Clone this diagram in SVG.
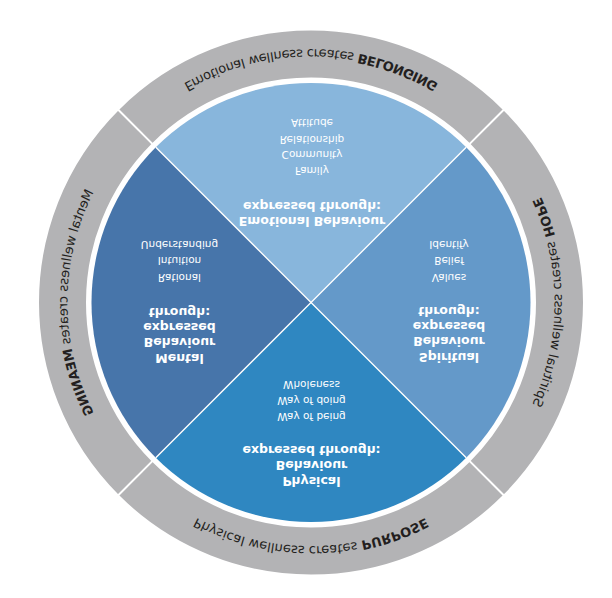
<svg xmlns="http://www.w3.org/2000/svg" xmlns:xlink="http://www.w3.org/1999/xlink" width="612" height="598" viewBox="0 0 612 598">
<style>
.ringtxt{font-family:"DejaVu Sans","Liberation Sans",sans-serif;font-size:13px;fill:#231f20}
.ringtxt .cap{font-weight:bold}
.title{font-family:"DejaVu Sans","Liberation Sans",sans-serif;font-size:12.5px;font-weight:bold;fill:#ffffff;text-anchor:middle}
.item{font-family:"DejaVu Sans","Liberation Sans",sans-serif;font-size:10.5px;fill:#ffffff;text-anchor:middle}
.pdiv{stroke:#ffffff;stroke-width:1.3;fill:none}
.rdiv{stroke:#ffffff;stroke-width:2;fill:none}
</style>
<defs>
<path id="pTop" d="M67.25,302.5 A243.75,243.75 0 0 1 554.75,302.5"/>
<path id="pRight" d="M311,58.75 A243.75,243.75 0 0 1 311,546.25"/>
<path id="pLeft" d="M311,546.25 A243.75,243.75 0 0 1 311,58.75"/>
<path id="pBottom" d="M57.75,302.5 A253.25,253.25 0 0 0 564.25,302.5"/>
</defs>
<rect width="612" height="598" fill="#ffffff"/>
<g transform="matrix(1 0 0 -1 0 605)">
  <g id="ring">
    <circle cx="311" cy="302.5" r="248.5" fill="none" stroke="#b3b3b5" stroke-width="47"/>
  </g>
  <g id="physical">
    <path d="M311,302.5 L155.79,147.29 A219.5,219.5 0 0 1 466.21,147.29 Z" fill="#2f87c1"/>
    <text class="title" x="311.5" y="128.3">Physical</text>
    <text class="title" x="311.5" y="143.8">Behaviour</text>
    <text class="title" x="311.5" y="159.3">expressed through:</text>
    <text class="item" x="311.5" y="191.7">Way of being</text>
    <text class="item" x="311.5" y="207.9">Way of doing</text>
    <text class="item" x="311.5" y="224.2">Wholeness</text>
    <text class="ringtxt"><textPath xlink:href="#pTop" href="#pTop" startOffset="50%" text-anchor="middle">Physical wellness creates <tspan class="cap">PURPOSE</tspan></textPath></text>
  </g>
  <g id="spiritual">
    <path d="M311,302.5 L466.21,147.29 A219.5,219.5 0 0 1 466.21,457.71 Z" fill="#6499c9"/>
    <text class="title" x="449" y="252.3">Spiritual</text>
    <text class="title" x="449" y="267.8">Behaviour</text>
    <text class="title" x="449" y="283.1">expressed</text>
    <text class="title" x="449" y="298.4">through:</text>
    <text class="item" x="449" y="331.5">Values</text>
    <text class="item" x="449" y="347.8">Belief</text>
    <text class="item" x="449" y="364.2">Identify</text>
    <text class="ringtxt"><textPath xlink:href="#pRight" href="#pRight" startOffset="50%" text-anchor="middle">Spiritual wellness creates <tspan class="cap">HOPE</tspan></textPath></text>
  </g>
  <g id="emotional">
    <path d="M311,302.5 L466.21,457.71 A219.5,219.5 0 0 1 155.79,457.71 Z" fill="#88b6dc"/>
    <text class="title" x="312" y="387.7">Emotional Behaviour</text>
    <text class="title" x="312" y="402.6">expressed through:</text>
    <text class="item" x="312" y="438.3">Family</text>
    <text class="item" x="312" y="453.6">Community</text>
    <text class="item" x="312" y="469.2">Relationship</text>
    <text class="item" x="312" y="485.7">Attitude</text>
    <text class="ringtxt"><textPath xlink:href="#pBottom" href="#pBottom" startOffset="50%" text-anchor="middle">Emotional wellness creates <tspan class="cap">BELONGING</tspan></textPath></text>
  </g>
  <g id="mental">
    <path d="M311,302.5 L155.79,457.71 A219.5,219.5 0 0 1 155.79,147.29 Z" fill="#4775aa"/>
    <text class="title" x="179.5" y="251.2">Mental</text>
    <text class="title" x="179.5" y="266.6">Behaviour</text>
    <text class="title" x="179.5" y="282">expressed</text>
    <text class="title" x="179.5" y="297.5">through:</text>
    <text class="item" x="179.5" y="331.2">Rational</text>
    <text class="item" x="179.5" y="347.6">Intuition</text>
    <text class="item" x="179.5" y="364.2">Understanding</text>
    <text class="ringtxt"><textPath xlink:href="#pLeft" href="#pLeft" startOffset="50%" text-anchor="middle">Mental wellness creates <tspan class="cap">MEANING</tspan></textPath></text>
  </g>
  <g id="connectors">
    <line class="pdiv" x1="155.79" y1="147.29" x2="466.21" y2="457.71"/>
    <line class="pdiv" x1="466.21" y1="147.29" x2="155.79" y2="457.71"/>
    <line class="rdiv" x1="152.6" y1="144.1" x2="118" y2="109.5"/>
    <line class="rdiv" x1="469.4" y1="144.1" x2="504" y2="109.5"/>
    <line class="rdiv" x1="152.6" y1="460.9" x2="118" y2="495.5"/>
    <line class="rdiv" x1="469.4" y1="460.9" x2="504" y2="495.5"/>
  </g>
</g>
</svg>
